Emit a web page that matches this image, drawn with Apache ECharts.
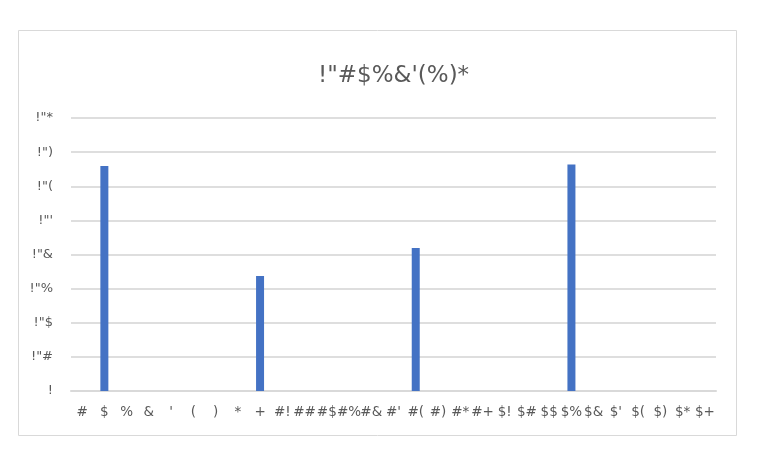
<!DOCTYPE html>
<html>
<head>
<meta charset="utf-8">
<script src="https://cdn.jsdelivr.net/npm/echarts@6/dist/echarts.min.js"></script>
<style>
  html, body { margin: 0; padding: 0; background: #fff; }
  #chart { width: 768px; height: 458px; }
</style>
</head>
<body>
<div id="chart"></div>
<script>
// labels come through in the reference's odd glyph encoding, kept as-is
const titleText = "!\"#$%&'(%)*";
const categories = [
  "#", "$", "%", "&", "'", "(", ")", "*", "+",
  "#!", "##", "#$", "#%", "#&", "#'", "#(", "#)", "#*", "#+",
  "$!", "$#", "$$", "$%", "$&", "$'", "$(", "$)", "$*", "$+"
];
const values = [
  null, 0.659, null, null, null, null, null, null, 0.337,
  null, null, null, null, null, null, 0.419, null, null, null,
  null, null, null, 0.664, null, null, null, null, null, null
];
const yTickLabels = ["!", "!\"#", "!\"$", "!\"%", "!\"&", "!\"'", "!\"(", "!\")", "!\"*"];

const chart = echarts.init(document.getElementById("chart"));
const textColor = "#595959";
const font = "DejaVu Sans";

chart.setOption({
  animation: false,
  title: {
    text: titleText,
    left: 313,
    top: 60,
    textStyle: { fontFamily: font, fontSize: 23, fontWeight: "normal", color: textColor }
  },
  graphic: [
    {
      type: "rect",
      shape: { x: 18.5, y: 30.5, width: 718, height: 405 },
      style: { fill: "none", stroke: "#d9d9d9", lineWidth: 1 }
    }
  ],
  grid: { left: 71, right: 52, top: 118, bottom: 67 },
  xAxis: {
    type: "category",
    data: categories,
    axisTick: { show: false },
    axisLine: { lineStyle: { color: "#d9d9d9", width: 2 } },
    axisLabel: { interval: 0, color: textColor, fontFamily: font, fontSize: 13.5, margin: 14 }
  },
  yAxis: {
    type: "value",
    min: 0,
    max: 0.8,
    interval: 0.1,
    axisLine: { show: false },
    axisTick: { show: false },
    splitLine: { lineStyle: { color: "#dedede", width: 2 } },
    axisLabel: {
      color: textColor,
      fontFamily: font,
      fontSize: 13,
      margin: 18,
      formatter: function (v) {
        return yTickLabels[Math.round(v * 10)];
      }
    }
  },
  series: [
    {
      type: "bar",
      data: values,
      barWidth: 8,
      itemStyle: { color: "#4472c4" }
    }
  ]
});
</script>
</body>
</html>
